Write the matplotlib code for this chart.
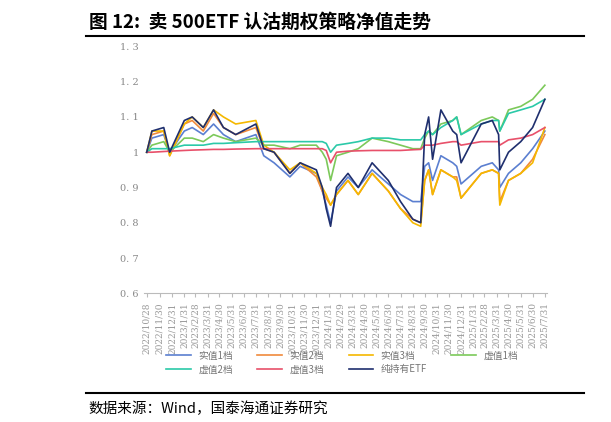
import matplotlib
matplotlib.use("Agg")
import matplotlib.pyplot as plt
import pandas as pd

plt.rcParams['font.family'] = ['Noto Sans CJK SC', 'DejaVu Sans']

dates = ["2022-10-28","2022-11-10","2022-12-10","2022-12-25","2023-01-31","2023-02-20","2023-03-20","2023-04-15",
         "2023-05-10","2023-06-10","2023-07-31","2023-08-20","2023-09-15","2023-10-25","2023-11-20","2023-12-31",
         "2024-01-15","2024-01-25","2024-02-05","2024-02-20","2024-03-20","2024-04-15","2024-05-20","2024-06-30",
         "2024-07-31","2024-08-31","2024-09-20","2024-09-30","2024-10-10","2024-10-20","2024-11-10","2024-12-10",
         "2024-12-20","2024-12-31","2025-02-20","2025-03-20","2025-04-05","2025-04-08","2025-04-30","2025-05-31",
         "2025-06-30","2025-07-31"]
etf = [1.0,1.06,1.07,1.0,1.09,1.10,1.07,1.12,1.07,1.05,1.08,1.01,1.0,0.94,0.97,0.95,0.90,0.84,0.79,0.90,0.94,0.90,
       0.97,0.92,0.86,0.81,0.80,1.05,1.10,0.98,1.12,1.06,1.05,0.97,1.08,1.09,1.05,0.95,1.00,1.03,1.07,1.15]
s1 = [1.0,1.04,1.05,1.0,1.06,1.07,1.05,1.08,1.05,1.03,1.05,0.99,0.97,0.93,0.96,0.94,0.89,0.85,0.80,0.89,0.93,0.90,
      0.95,0.91,0.88,0.86,0.86,0.96,0.97,0.92,0.99,0.97,0.96,0.91,0.96,0.97,0.95,0.90,0.94,0.97,1.01,1.06]
s2 = [1.0,1.05,1.06,0.99,1.08,1.09,1.06,1.11,1.07,1.05,1.07,1.01,1.0,0.94,0.97,0.93,0.89,0.87,0.85,0.88,0.92,0.88,
      0.94,0.89,0.84,0.81,0.80,0.92,0.95,0.88,0.95,0.93,0.93,0.87,0.94,0.95,0.94,0.86,0.92,0.94,0.98,1.05]
s3 = [1.0,1.06,1.06,0.99,1.08,1.10,1.07,1.12,1.10,1.08,1.09,1.02,1.0,0.95,0.97,0.94,0.90,0.88,0.85,0.88,0.92,0.88,
      0.94,0.89,0.84,0.80,0.79,0.92,0.95,0.88,0.95,0.93,0.92,0.87,0.94,0.95,0.94,0.85,0.92,0.94,0.97,1.07]
v1 = [1.0,1.02,1.03,1.0,1.04,1.04,1.03,1.05,1.04,1.03,1.04,1.02,1.02,1.01,1.02,1.02,1.0,0.98,0.92,0.99,1.0,1.01,
      1.04,1.03,1.02,1.01,1.01,1.04,1.06,1.05,1.08,1.09,1.10,1.05,1.09,1.10,1.09,1.06,1.12,1.13,1.15,1.19]
v2 = [1.0,1.01,1.01,1.01,1.02,1.02,1.02,1.025,1.025,1.027,1.03,1.03,1.03,1.03,1.03,1.03,1.03,1.025,1.0,1.02,1.025,1.03,
      1.04,1.04,1.035,1.035,1.035,1.05,1.06,1.05,1.07,1.09,1.10,1.05,1.08,1.09,1.09,1.06,1.11,1.12,1.13,1.15]
v3 = [1.0,1.0,1.002,1.003,1.005,1.006,1.007,1.008,1.008,1.009,1.01,1.01,1.01,1.01,1.01,1.01,1.01,1.005,0.97,1.0,1.003,1.004,
      1.005,1.005,1.005,1.007,1.008,1.02,1.02,1.02,1.025,1.03,1.03,1.02,1.03,1.03,1.03,1.02,1.035,1.04,1.05,1.07]

names = ["实值1档","实值2档","实值3档","虚值1档","虚值2档","虚值3档","纯持有ETF"]
colors = ["#5b7fd0","#f08a3c","#f5b800","#7cc95a","#2bc9a8","#e8506a","#1f2f6e"]
series = [s1,s2,s3,v1,v2,v3,etf]

x = pd.to_datetime(dates)
fig = plt.figure(figsize=(6.11,4.22), dpi=100)
fig.text(0.145,0.935,"图 12:  卖 500ETF 认沽期权策略净值走势", fontsize=13.5, fontweight='bold', color='black')
fig.add_artist(plt.Line2D([0.14,0.955],[0.915,0.915], color='black', lw=1.5))
fig.add_artist(plt.Line2D([0.14,0.955],[0.068,0.068], color='black', lw=1.5))
fig.text(0.145,0.02,"数据来源：Wind，国泰海通证券研究", fontsize=10.5, color='black')

ax = fig.add_axes([0.235,0.305,0.66,0.585])
handles = []
for s,c,n in zip(series,colors,names):
    h, = ax.plot(x,s,color=c,lw=1.2,label=n)
    handles.append(h)
ax.set_ylim(0.6,1.3)
ax.set_yticks([0.6,0.7,0.8,0.9,1.0,1.1,1.2,1.3])
ax.set_yticklabels(["0. 6","0. 7","0. 8","0. 9","1","1. 1","1. 2","1. 3"], fontsize=7, color='#888888', family='DejaVu Serif')
ticks = pd.date_range("2022-10-31","2025-07-31",freq="ME")
ticks = [pd.Timestamp("2022-10-28")]+list(ticks[1:])
ax.set_xticks(ticks)
ax.set_xticklabels([f"{t.year}/{t.month}/{t.day}" for t in ticks], rotation=90, fontsize=6.5, color='#999999', family='DejaVu Serif')
ax.set_xlim(pd.Timestamp("2022-10-20"), pd.Timestamp("2025-08-05"))
for sp in ['top','right','left']:
    ax.spines[sp].set_visible(False)
ax.spines['bottom'].set_color('#bbbbbb')
ax.tick_params(axis='y', length=0)
ax.tick_params(axis='x', color='#bbbbbb', length=3)

# row-major order for a 4-column legend
order = [0,4,1,5,2,6,3]
fig.legend([handles[i] for i in order],[names[i] for i in order], loc='upper center', bbox_to_anchor=(0.56,0.19),
           ncol=4, frameon=False, fontsize=7, handlelength=2.5, labelcolor='#777777', columnspacing=2.5,
           labelspacing=0.4)
fig.savefig("out.png", dpi=100)
